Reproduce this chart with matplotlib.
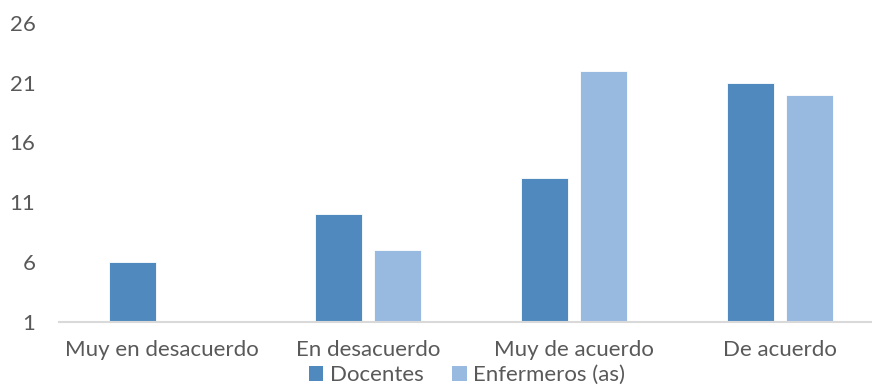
import matplotlib
matplotlib.use("Agg")
import matplotlib.pyplot as plt
from matplotlib.patches import Patch
import numpy as np

categories = ["Muy en desacuerdo", "En desacuerdo", "Muy de acuerdo", "De acuerdo"]
docentes = [6, 10, 13, 21]
enfermeros = [1, 7, 22, 20]
series_names = ["Docentes", "Enfermeros (as)"]
y_ticks = [1, 6, 11, 16, 21, 26]

dark_blue = "#4F89BD"
light_blue = "#98B9E0"
text_gray = "#595959"
axis_gray = "#D9D9D9"

plt.rcParams["font.family"] = ["Lato", "DejaVu Sans"]

W, H = 872, 388
fig = plt.figure(figsize=(W / 100, H / 100), dpi=100)
ax = fig.add_axes([59 / W, (H - 321.7) / H, 824 / W, (321.7 - 23) / H])

base = y_ticks[0]
x = np.arange(len(categories))
width = 0.226
offset = 0.142
ax.bar(x - offset, np.array(docentes) - base, width, bottom=base,
       color=dark_blue, edgecolor="white", linewidth=0.6, zorder=2)
ax.bar(x + offset, np.array(enfermeros) - base, width, bottom=base,
       color=light_blue, edgecolor="white", linewidth=0.6, zorder=2)

ax.set_xlim(-0.5, len(categories) - 0.5)
ax.set_ylim(y_ticks[0], y_ticks[-1])
ax.set_yticks(y_ticks)
ax.set_xticks(x)
ax.set_xticklabels(categories)
ax.axhline(base, color=axis_gray, linewidth=1.5, zorder=3, clip_on=False)

for s in ax.spines.values():
    s.set_visible(False)
ax.tick_params(axis="both", length=0, labelsize=16, labelcolor=text_gray)
ax.tick_params(axis="y", pad=17)
ax.tick_params(axis="x", pad=13)

handles = [Patch(facecolor=dark_blue, edgecolor="none"),
           Patch(facecolor=light_blue, edgecolor="none")]
fig.legend(handles, series_names, loc="center", bbox_to_anchor=(467 / W, 1 - 375 / H),
           ncol=2, frameon=False, fontsize=16, labelcolor=text_gray,
           handlelength=0.65, handleheight=0.65, handletextpad=0.3, columnspacing=1.3,
           borderpad=0, borderaxespad=0)

fig.savefig("out.png", dpi=100)
